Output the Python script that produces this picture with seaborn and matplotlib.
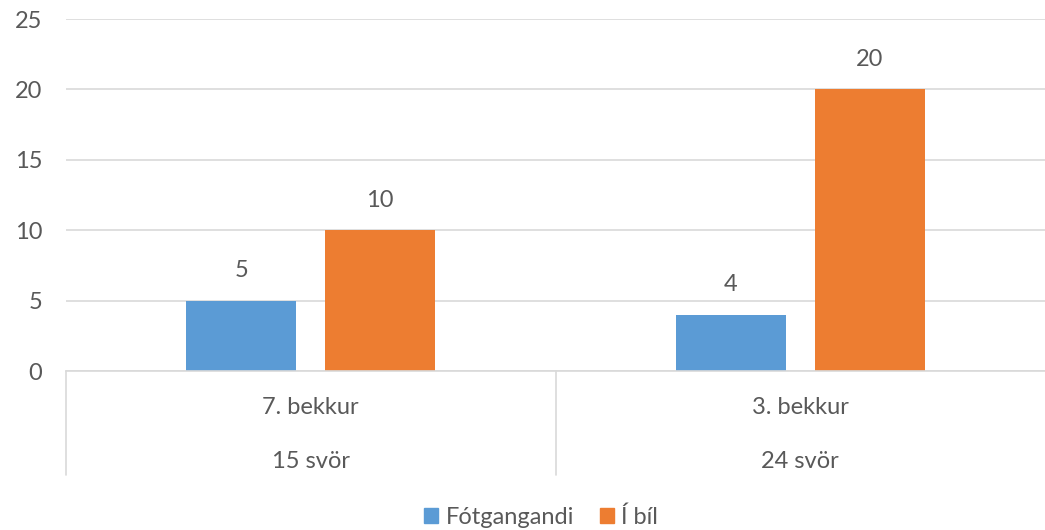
import pandas as pd
import matplotlib
matplotlib.use("Agg")
import matplotlib.pyplot as plt
import seaborn as sns

# Data
classes = ["7. bekkur", "3. bekkur"]
answers = ["15 svör", "24 svör"]
series = ["Fótgangandi", "Í bíl"]
walking = [5, 4]
by_car = [10, 20]
colors = ["#5B9BD5", "#ED7D31"]

df = pd.DataFrame({
    "class": classes * 2,
    "mode": [series[0]] * 2 + [series[1]] * 2,
    "count": walking + by_car,
})

sns.set_style("white")
plt.rcParams["font.family"] = ["Lato", "DejaVu Sans"]
text_col = "#595959"
grid_col = "#D9D9D9"
fs = 17

fig = plt.figure(figsize=(10.45, 5.3), dpi=100)
ax = fig.add_axes([66 / 1045, 1 - 371 / 530, 979 / 1045, 352 / 530])

sns.barplot(data=df, x="class", y="count", hue="mode", order=classes,
            hue_order=series, palette=colors, width=0.567, gap=0.208,
            saturation=1, linewidth=0, ax=ax, legend=False)

ax.set_xlim(-0.5, 1.5)
ax.set_ylim(0, 25)
ax.set_yticks(range(0, 26, 5))
ax.yaxis.grid(True, color=grid_col, linewidth=1.2)
ax.set_axisbelow(True)
for s in ["top", "right", "left"]:
    ax.spines[s].set_visible(False)
ax.spines["bottom"].set_color(grid_col)
ax.spines["bottom"].set_linewidth(1.2)
ax.tick_params(axis="y", length=0, pad=17, labelsize=fs, labelcolor=text_col)
ax.set_xticks([])
ax.set_xlabel("")
ax.set_ylabel("")

# value labels
for cont in ax.containers:
    ax.bar_label(cont, padding=14, fontsize=fs, color=text_col)

# two-level category axis
trans = ax.get_xaxis_transform()
depth = 104 / 352
for xpos in [-0.5, 0.5]:
    ax.plot([xpos, xpos], [0, -depth], transform=trans, color=grid_col,
            linewidth=1.2, clip_on=False)
for i, (c, a) in enumerate(zip(classes, answers)):
    ax.text(i, -37 / 352, c, transform=trans, ha="center", va="center",
            fontsize=fs, color=text_col)
    ax.text(i, -91 / 352, a, transform=trans, ha="center", va="center",
            fontsize=fs, color=text_col)

handles = [plt.Rectangle((0, 0), 1, 1, color=col) for col in colors]
fig.legend(handles, series, loc="center", bbox_to_anchor=(541 / 1045, 1 - 517 / 530),
           ncol=2, frameon=False, fontsize=fs, labelcolor=text_col,
           handlelength=0.6, handleheight=0.6, handletextpad=0.3, columnspacing=1.1)

fig.savefig("out.png", dpi=100)
